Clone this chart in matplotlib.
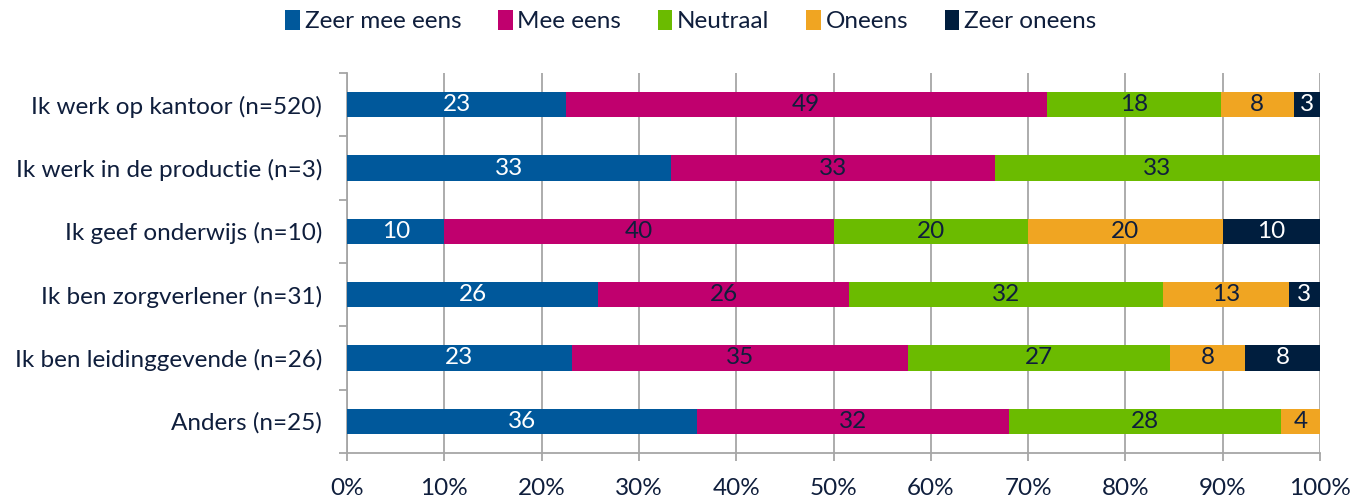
import numpy as np
import matplotlib
matplotlib.use("Agg")
import matplotlib.pyplot as plt

plt.rcParams['font.family'] = ['Lato', 'DejaVu Sans']

# Categories (top to bottom) and percentages per answer
categories = ["Ik werk op kantoor (n=520)", "Ik werk in de productie (n=3)",
              "Ik geef onderwijs (n=10)", "Ik ben zorgverlener (n=31)",
              "Ik ben leidinggevende (n=26)", "Anders (n=25)"]
series_names = ["Zeer mee eens", "Mee eens", "Neutraal", "Oneens", "Zeer oneens"]
zeer_mee_eens = [22.5, 33.3, 10.0, 25.8, 23.1, 36.0]
mee_eens = [49.4, 33.3, 40.0, 25.8, 34.6, 32.0]
neutraal = [17.9, 33.4, 20.0, 32.3, 26.9, 28.0]
oneens = [7.5, 0.0, 20.0, 12.9, 7.7, 4.0]
zeer_oneens = [2.7, 0.0, 10.0, 3.2, 7.7, 0.0]

colors = ["#00589B", "#C0006E", "#6BBB00", "#F0A522", "#001E3E"]
text_colors = ["white", "#0F1E3C", "#0F1E3C", "#0F1E3C", "white"]
navy = "#0F1E3C"

fig = plt.figure(figsize=(13.52, 4.98), dpi=100)
ax = fig.add_axes([0.2567, 0.0904, 0.7196, 0.763])

y = np.arange(len(categories))
left = np.zeros(len(categories))
for name, vals, col, tcol in zip(series_names,
                                 [zeer_mee_eens, mee_eens, neutraal, oneens, zeer_oneens],
                                 colors, text_colors):
    vals = np.array(vals)
    ax.barh(y, vals, left=left, height=0.4, color=col, label=name, zorder=3)
    for yi, l, v in zip(y, left, vals):
        if v > 0:
            ax.text(l + v / 2, yi, "%d" % int(v + 0.5), ha="center", va="center",
                    color=tcol, fontsize=17.5, zorder=4)
    left += vals

ax.set_xlim(0, 100)
ax.set_ylim(len(categories) - 0.5, -0.5)
ax.set_xticks(np.arange(0, 101, 10))
ax.set_xticklabels(["%d%%" % v for v in range(0, 101, 10)])
ax.set_yticks(y)
ax.set_yticklabels(categories)
ax.set_yticks(np.arange(-0.5, len(categories)), minor=True)

ax.xaxis.grid(True, color="#A6A6A6", linewidth=1.3, zorder=0)
for s in ["top", "right"]:
    ax.spines[s].set_visible(False)
for s in ["left", "bottom"]:
    ax.spines[s].set_color("#A6A6A6")
    ax.spines[s].set_linewidth(1.3)

ax.tick_params(axis="y", which="major", length=0, pad=18, labelsize=17.5, labelcolor=navy)
ax.tick_params(axis="y", which="minor", length=6, color="#A6A6A6", width=1.3)
ax.tick_params(axis="x", length=6, color="#A6A6A6", width=1.3, pad=12,
               labelsize=17.5, labelcolor=navy)

handles, labels = ax.get_legend_handles_labels()
fig.legend(handles, labels, loc="center", bbox_to_anchor=(0.511, 0.958), ncol=5,
           frameon=False, fontsize=17.5, handlelength=0.6, handleheight=0.9,
           handletextpad=0.2, columnspacing=1.5, labelcolor=navy)

fig.savefig("out.png", dpi=100)
